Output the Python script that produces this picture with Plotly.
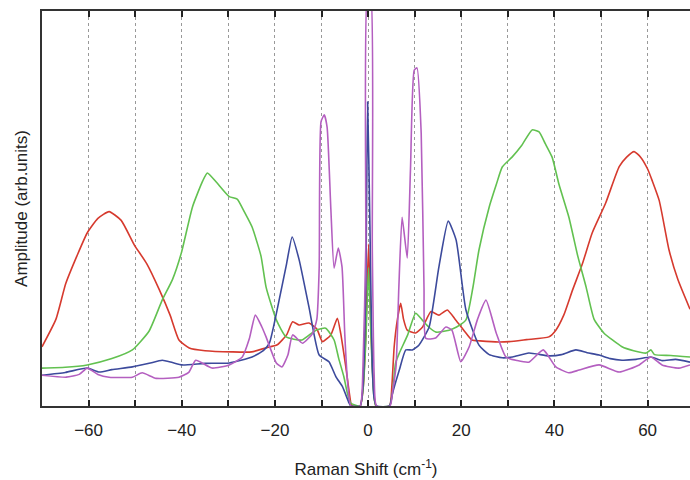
import plotly.graph_objects as go

# ---- data ----
red_x = [-70,-67,-64.9,-62.5,-60.3,-58,-55.6,-53,-50.2,-47.5,-44.8,-42.5,-40.6,-38.4,-35,-29.2,-25,-22,-19.5,-17.5,-16.2,-14.8,-12.7,-11,-9.8,-8,-6.6,-5.9,-4.8,-3.7,-3.5,-1.7,-1.1,-0.5,0.1,0.6,1.2,1.7,4.6,5.1,5.6,6.3,7.0,7.6,8.4,10.2,11.7,13.5,15.2,17,18.8,21,22.3,24,28,30.3,34,38.8,40.3,42,43.9,46,48.1,51,53.9,55.5,57.1,58.5,60,61,62.5,64.6,66.5,69.1]
red_y = [15,22,31,38,43.8,47.5,49.2,47,40.8,36,29.4,23,16.7,14.7,14,13.7,13.7,14.7,15.5,18,21.3,20.5,21,19.5,16.3,18,22.2,18.5,10,0.7,0,0,4,18,41,20,4,0,0,5,15,22,26,22,19.2,18.5,20,23.9,23,24.3,21.8,18.5,16.7,16.5,16.2,16.3,16.8,17.5,19.2,23,29.4,36,43.8,51.4,60.6,63,64.4,63,60,57,52,39.5,32,24.5]

green_x = [-70,-65,-60.3,-55,-50.6,-47,-44.2,-42,-40.1,-37.7,-35.5,-34.5,-32.6,-29.8,-28.1,-26.5,-24.9,-23,-21.9,-19.7,-17.6,-14.2,-11.2,-9.1,-7.3,-6.3,-5.2,-4.4,-3.7,-1.7,-1.1,-0.5,0.1,0.6,1.2,1.7,4.6,5.2,5.9,6.7,8.5,10.2,11.6,13,14.6,17.4,19,21,22.5,23.8,26,27.5,28.8,30.9,33,35.2,36.7,38,39.5,41,43.1,45,46.8,48.5,50.6,54.5,57,59.7,60.7,61.5,65,69.1]
green_y = [9.6,9.8,10.4,12,14.2,19,26.8,32,38.7,50.4,57,59,56.7,53,52.4,49,45.3,38,30.1,21.8,17.5,16.7,19.2,19.7,16.7,12,7.4,3,0.7,0,4,16,35,18,3,0,0,3,10.9,13.4,18,23.5,21.8,20,18.7,19.2,20,21.8,30,39.5,50.4,56,60.5,63,66,69.9,69.4,66.5,63,56,47.8,38,30.1,22,18.5,15,14,13.4,14.2,13,12.8,12.4]

blue_x = [-70,-65,-60.3,-57.7,-55,-50.6,-47,-44.2,-42,-39.9,-35,-29.8,-24.9,-22.5,-21.2,-19.1,-17.5,-16.3,-14.8,-12.7,-10.5,-8.4,-6.9,-5.5,-4.1,-3.7,-1.7,-1.1,-0.5,-0.1,0.4,0.9,1.3,1.8,4.6,5.2,6.7,8.1,9.5,10.9,13.1,15.2,17.2,18.9,21,23.8,26,28.8,31,34.5,38.8,41.5,44.6,47,49.6,52,54.5,57.5,60.7,63,66,69.1]
blue_y = [7.8,8.5,9.6,8.6,9.2,9.9,10.8,11.6,11,10.4,10.8,10.9,12.4,14,15.9,26.8,36,42.8,37,25.1,12.9,11.2,7.4,4.9,0.8,0,0,5,30,77,45,10,2,0,0,3,9.1,14.2,14.2,15.4,20,35.2,46.8,42,24.3,15.4,13,12.2,12.4,13.4,12.7,13,14.2,13.5,12.9,12,11.6,11.8,12.4,11.5,11.8,11.1]

purple_x = [-70,-64.8,-62,-60.3,-58,-55.6,-50.6,-48.5,-45.5,-40.6,-38.5,-37,-33.5,-29.8,-27,-25.5,-24.2,-22.8,-21.9,-19.7,-18.5,-17.2,-16.2,-14.1,-11.9,-11,-10.5,-10.1,-9.4,-8.8,-8,-7.3,-6.4,-5.6,-5,-4.4,-3.7,-1.7,-1.1,-0.5,-0.1,0.5,0.9,1.3,1.8,4.7,5.3,6,6.6,7.3,8.4,9.1,9.9,10.5,11.4,12,12.4,14.5,16.7,18,19.9,21.7,23.5,25.3,27.5,29.6,32,34.5,37.6,40.3,43.1,45.3,49.6,53.9,58.2,60.7,63.1,66.7,69.1]
purple_y = [7.8,7.3,8,9.6,8,7.3,7.3,8.4,7,7.3,8.5,11.6,9.6,10.4,12.4,17,23,20,17.5,10.9,9.9,13,18,15.9,18.4,22,35,72,73.7,70.6,50,34.9,40,35.2,18,6,0,0,10,40,105,105,40,8,0,0,4,10,30,47.8,37.5,60,85,85.6,69,30,17.1,17.2,20,19.2,11.2,15,22,26.8,18.5,12.4,11.5,11.1,14.2,9.9,8.4,9.1,10.4,8.6,10.4,12.4,10.4,9.6,10.4]

series = [
    (red_x, red_y, "#d63a2e"),
    (green_x, green_y, "#62c150"),
    (blue_x, blue_y, "#3c4a9c"),
    (purple_x, purple_y, "#b45fc0"),
]

fig = go.Figure()
for xs, ys, col in series:
    fig.add_trace(go.Scatter(x=xs, y=ys, mode="lines",
                             line=dict(color=col, width=1.6, shape="spline", smoothing=0.5),
                             showlegend=False, hoverinfo="skip"))

font_main = "Liberation Sans, Arial, sans-serif"
fig.update_layout(
    width=690, height=480,
    margin=dict(l=42, r=0, t=11, b=74),
    paper_bgcolor="white", plot_bgcolor="white",
    font=dict(family=font_main, color="#222"),
)
fig.update_xaxes(
    range=[-70, 69.1],
    tick0=-60, dtick=20,
    ticks="inside", ticklen=6, tickwidth=1.5, tickcolor="#222",
    showgrid=True, gridcolor="#999", griddash="dot", gridwidth=1,
    minor=dict(dtick=10, tick0=-70, ticks="inside", ticklen=6, tickwidth=1.5, tickcolor="#222",
               showgrid=True, gridcolor="#999", griddash="dot", gridwidth=1),
    showline=True, linecolor="#333", linewidth=1.5, mirror="ticks",
    zeroline=False, automargin=False,
    ticklabelstandoff=8,
    tickfont=dict(size=17, color="#222"),
    title=dict(text="Raman Shift (cm<sup>-1</sup>)", font=dict(size=17, color="#222"), standoff=24),
)
fig.update_yaxes(
    range=[0, 100],
    showticklabels=False, ticks="",
    showgrid=False, zeroline=False, automargin=False,
    showline=True, linecolor="#333", linewidth=1.5, mirror=True,
    title=dict(text="Amplitude (arb.units)", font=dict(size=17, color="#222"), standoff=8),
)

fig.write_html(
    "out.html",
    config={"displayModeBar": False},
    post_script="document.body.style.margin='0';document.documentElement.style.overflow='hidden';",
)
